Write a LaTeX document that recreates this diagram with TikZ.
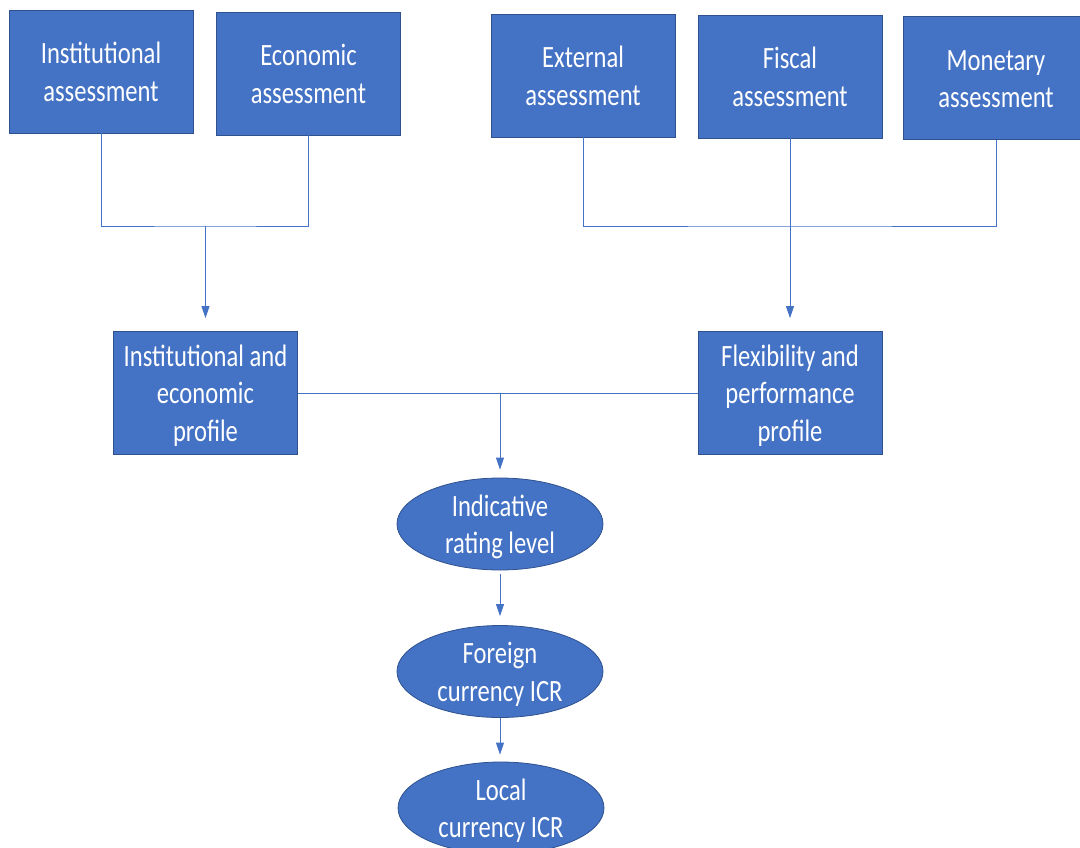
\documentclass[tikz,border=0pt]{standalone}
\usepackage{fontspec}
\setmainfont{Carlito}
\usetikzlibrary{arrows.meta,shapes.geometric}
\definecolor{boxblue}{HTML}{4472C4}
\definecolor{boxedge}{HTML}{2F528F}
% label lines, stretched a little in height and set a bit lower
\newcommand{\tallcell}[1]{\raisebox{-3.5pt}[\height][\depth]{\scalebox{1}[1.26]{\begin{tabular}{@{}c@{}}#1\end{tabular}}}}
\tikzset{
  assess/.style={rectangle, fill=boxblue, draw=boxedge, line width=0.8pt,
    minimum width=184pt, minimum height=123pt, inner sep=0pt,
    text=white, font=\fontsize{24.6}{29.5}\selectfont},
  rating/.style={ellipse, fill=boxblue, draw=boxedge, line width=0.8pt,
    minimum width=206pt, minimum height=92pt, inner xsep=0pt, inner ysep=-6pt,
    text=white, font=\fontsize{24.6}{29.5}\selectfont},
  link/.style={draw=boxblue, line width=0.9pt},
  flow/.style={link, -{Triangle[width=8pt,length=12pt]}}
}
\begin{document}
\begin{tikzpicture}[x=1pt,y=-1pt]
  \useasboundingbox (0,0) rectangle (1080,847);
  \clip (0,0) rectangle (1080,847);
  % top row of assessments
  \node[assess] (inst) at (101,71.5) {\tallcell{Institutional\\assessment}};
  \node[assess] (econ) at (308.5,73.5) {\tallcell{Economic\\assessment}};
  \node[assess] (ext) at (583,75.5) {\tallcell{External\\assessment}};
  \node[assess] (fis) at (790,76.5) {\tallcell{Fiscal\\assessment}};
  \node[assess, minimum width=186pt] (mon) at (996,78) {\tallcell{Monetary\\assessment}};
  % the two profiles
  \node[assess] (ieprof) at (205.5,393) {\tallcell{Institutional and\\economic\\profile}};
  \node[assess] (flex) at (790,393) {\tallcell{Flexibility and\\performance\\profile}};
  % ratings
  \node[rating] (ind) at (500,524) {\tallcell{Indicative\\rating level}};
  \node[rating] (fcr) at (500,671.5) {\tallcell{Foreign\\currency ICR}};
  \node[rating] (lcr) at (501,808) {\tallcell{Local\\currency ICR}};
  % junction points
  \coordinate (jl) at (205.5,226);
  \coordinate (jr) at (790,226);
  \coordinate (jm) at (500,393);
  % connectors
  \draw[link] (inst.south) |- (jl) -| (econ.south);
  \draw[flow] (jl) -- ([yshift=13pt]ieprof.north);
  \draw[link] (ext.south) |- (jr) -| (mon.south);
  \draw[link] (fis.south) -- (jr);
  \draw[flow] (jr) -- ([yshift=13pt]flex.north);
  \draw[link] (ieprof.east) -- (flex.west);
  \draw[flow] (jm) -- ([yshift=8pt]ind.north);
  \draw[flow] ([yshift=-4pt]ind.south) -- ([yshift=9pt]fcr.north);
  \draw[flow] (fcr.south) -- ([yshift=7pt]lcr.north -| fcr.south);
\end{tikzpicture}
\end{document}
